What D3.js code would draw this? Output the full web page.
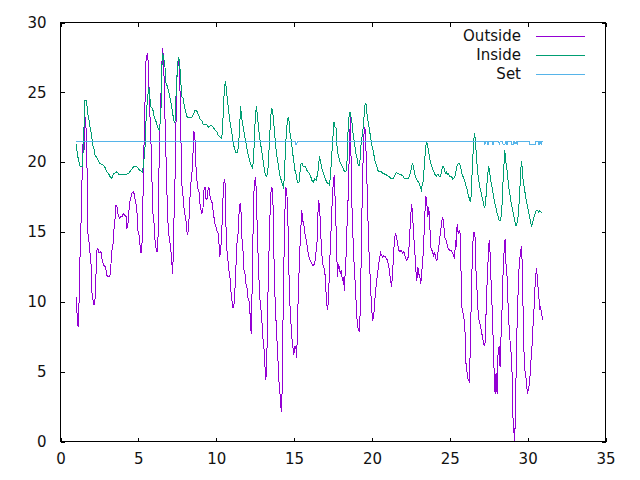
<!DOCTYPE html>
<html><head><meta charset="utf-8">
<script src="https://cdn.jsdelivr.net/npm/d3@7"></script>
<style>
html,body{margin:0;padding:0;background:#fff;}
svg{display:block;font-family:"DejaVu Sans",sans-serif;}
</style></head>
<body>
<svg id="chart" width="640" height="480"></svg>
<script>
const xTicks = [0,5,10,15,20,25,30,35];
const yTicks = [0,5,10,15,20,25,30];
const seriesNames = ["Outside","Inside","Set"];
const seriesColors = ["#9400d3","#009e73","#56b4e9"];

const outsideDays = [1.0,1.07,1.13,1.22,1.28,1.33,1.39,1.46,1.52,1.58,1.65,1.71,1.76,1.84,1.92,1.99,2.03,2.1,2.16,2.22,2.29,2.33,2.4,2.46,2.54,2.6,2.67,2.78,2.89,2.97,3.06,3.17,3.23,3.29,3.36,3.42,3.49,3.55,3.62,3.68,3.78,3.87,3.95,4.04,4.13,4.21,4.26,4.32,4.38,4.47,4.53,4.6,4.7,4.79,4.85,4.92,4.98,5.04,5.11,5.17,5.24,5.28,5.35,5.41,5.45,5.51,5.58,5.62,5.69,5.75,5.81,5.88,5.94,6.01,6.07,6.13,6.2,6.26,6.31,6.37,6.44,6.5,6.56,6.63,6.69,6.76,6.82,6.88,6.95,7.01,7.08,7.14,7.21,7.27,7.33,7.4,7.46,7.53,7.59,7.65,7.72,7.78,7.85,7.91,7.97,8.04,8.1,8.17,8.23,8.29,8.36,8.42,8.51,8.57,8.63,8.7,8.76,8.83,8.89,8.96,9.02,9.08,9.15,9.21,9.28,9.34,9.4,9.47,9.53,9.6,9.66,9.72,9.79,9.85,9.92,9.98,10.04,10.11,10.17,10.22,10.26,10.32,10.37,10.43,10.49,10.56,10.62,10.69,10.75,10.81,10.88,10.94,11.01,11.07,11.13,11.2,11.26,11.33,11.39,11.45,11.52,11.56,11.6,11.65,11.71,11.78,11.84,11.9,11.97,12.03,12.1,12.16,12.22,12.27,12.29,12.35,12.42,12.48,12.54,12.61,12.67,12.74,12.8,12.87,12.93,12.99,13.06,13.12,13.19,13.25,13.31,13.38,13.44,13.51,13.57,13.63,13.7,13.76,13.83,13.89,13.96,14.02,14.08,14.15,14.21,14.28,14.34,14.4,14.47,14.53,14.6,14.66,14.72,14.79,14.85,14.92,14.98,15.04,15.11,15.17,15.24,15.3,15.37,15.43,15.49,15.56,15.62,15.69,15.75,15.81,15.88,15.94,16.01,16.07,16.2,16.33,16.39,16.46,16.52,16.58,16.65,16.71,16.78,16.84,16.9,16.97,17.03,17.1,17.14,17.21,17.27,17.33,17.4,17.46,17.53,17.59,17.65,17.72,17.78,17.85,17.91,17.97,18.04,18.1,18.17,18.23,18.29,18.36,18.42,18.49,18.55,18.62,18.68,18.74,18.81,18.87,18.94,19.0,19.06,19.13,19.19,19.26,19.32,19.38,19.45,19.51,19.58,19.64,19.71,19.77,19.83,19.9,19.96,20.04,20.13,20.22,20.3,20.39,20.47,20.56,20.67,20.77,20.88,20.99,21.09,21.2,21.26,21.33,21.39,21.46,21.52,21.58,21.65,21.71,21.8,21.88,21.97,22.05,22.14,22.22,22.31,22.37,22.44,22.5,22.56,22.63,22.69,22.76,22.82,22.88,22.95,23.01,23.08,23.14,23.21,23.27,23.33,23.4,23.46,23.53,23.59,23.65,23.72,23.78,23.85,23.91,23.97,24.04,24.1,24.17,24.23,24.29,24.36,24.42,24.49,24.55,24.62,24.68,24.77,24.87,24.98,25.09,25.19,25.3,25.38,25.43,25.47,25.54,25.6,25.67,25.73,25.79,25.86,25.92,25.99,26.05,26.12,26.18,26.24,26.31,26.37,26.44,26.5,26.56,26.63,26.69,26.76,26.82,26.88,26.95,27.01,27.08,27.14,27.21,27.27,27.33,27.4,27.46,27.53,27.59,27.65,27.72,27.78,27.85,27.91,27.97,28.04,28.1,28.17,28.23,28.29,28.36,28.42,28.49,28.55,28.61,28.68,28.74,28.81,28.87,28.94,29.0,29.06,29.13,29.17,29.23,29.29,29.36,29.42,29.49,29.55,29.62,29.68,29.74,29.81,29.87,29.94,30.0,30.06,30.13,30.19,30.26,30.32,30.38,30.45,30.51,30.58,30.64,30.71,30.77,30.83,30.9,30.96];
const outsideTemp = [10.35,9.0,8.2,10.8,15.1,15.8,19.2,21.8,20.9,23.2,22.3,19.2,14.9,14.2,13.2,12.3,10.3,10.1,9.75,10.2,12.3,13.7,13.8,13.5,13.5,13.6,13.0,12.6,12.5,11.9,11.8,11.8,12.5,13.6,13.9,15.1,15.7,16.9,16.9,16.3,16.0,16.1,16.1,16.3,16.2,16.1,15.3,15.4,16.4,17.3,17.5,17.8,17.9,17.3,17.0,16.3,15.0,14.8,14.0,13.5,14.3,16.3,20.9,22.5,26.6,27.5,27.8,27.3,25.2,23.2,21.4,18.5,16.3,15.6,14.4,13.9,13.6,14.4,18.7,22.1,24.3,26.8,28.2,27.1,24.0,21.1,18.5,16.1,14.9,14.4,13.8,12.9,12.0,15.4,17.3,21.6,25.8,26.7,27.3,26.4,22.8,18.5,17.8,17.0,16.3,16.1,15.1,14.8,15.4,16.8,18.5,18.8,20.6,22.2,21.8,19.7,18.7,18.1,17.9,17.0,16.6,16.3,16.7,18.0,18.2,17.4,17.3,18.0,18.2,17.6,17.3,17.2,16.6,16.1,15.6,15.4,15.1,15.0,14.4,13.2,13.5,14.2,15.4,17.3,18.5,18.8,15.6,13.7,13.0,12.3,11.8,10.8,10.1,9.6,9.6,10.8,12.3,14.2,14.6,16.1,17.0,17.1,16.3,14.6,13.9,12.3,12.1,11.3,11.1,10.3,10.1,9.4,8.0,7.7,9.9,14.2,17.8,18.7,18.9,16.3,13.9,11.8,10.3,9.5,8.7,7.5,6.8,5.6,4.4,5.8,9.9,13.2,15.8,17.8,18.2,18.0,13.7,10.8,8.9,7.5,6.0,4.4,3.7,2.5,2.1,8.0,12.3,16.1,18.2,18.0,16.1,12.5,10.1,8.7,7.5,6.8,6.2,6.8,6.8,6.0,9.4,11.5,13.7,15.1,16.6,15.8,15.6,14.9,14.6,14.2,13.7,13.3,13.0,12.9,12.6,12.7,13.5,13.8,16.1,17.3,16.6,14.9,13.5,12.7,12.5,12.3,11.1,9.9,9.4,10.1,12.3,13.9,15.8,17.5,18.7,19.1,16.8,14.6,11.8,12.7,12.5,12.0,12.3,11.5,11.8,10.8,12.3,13.7,16.3,17.8,21.1,23.2,18.7,15.8,13.9,12.3,11.1,9.6,8.4,8.0,7.9,9.6,13.9,17.8,20.9,22.5,22.3,20.1,17.5,14.9,13.0,11.5,9.9,8.6,9.2,10.6,11.5,12.3,13.0,13.5,13.2,13.3,13.2,13.0,12.5,11.5,11.1,12.0,13.5,14.6,14.9,14.6,14.2,13.7,13.6,13.7,13.5,13.6,13.2,13.0,13.1,13.7,15.1,16.3,17.0,15.8,14.6,13.5,12.3,11.5,12.5,12.0,11.8,11.3,12.3,13.0,14.4,16.3,17.6,17.0,16.1,16.8,15.4,13.9,13.7,13.5,13.3,13.5,13.1,12.9,13.5,13.9,14.6,15.1,15.8,16.1,15.4,14.6,14.4,13.9,13.7,13.7,13.5,13.1,14.4,13.9,15.6,14.9,15.1,14.9,11.8,9.4,9.2,8.7,7.7,5.3,4.9,4.4,4.3,6.3,9.6,13.0,14.6,15.0,14.6,12.0,10.6,9.2,8.7,8.4,8.0,7.6,7.2,6.9,7.1,9.2,11.5,13.0,14.4,13.5,11.5,9.6,7.5,4.9,3.4,4.9,3.4,6.3,6.8,5.3,7.5,9.6,12.0,13.7,14.5,12.7,11.8,9.9,8.2,7.2,6.3,4.9,1.7,0.55,0.05,2.9,7.2,9.6,12.0,13.0,13.7,14.0,11.1,7.2,5.1,4.9,3.9,3.4,3.9,4.1,5.6,6.3,8.0,8.7,10.6,11.8,12.4,11.3,10.6,9.4,9.6,9.2,8.7];

const insideDays = [1.0,1.07,1.13,1.2,1.26,1.39,1.46,1.52,1.56,1.65,1.71,1.78,1.84,1.9,1.97,2.03,2.1,2.16,2.22,2.29,2.35,2.42,2.48,2.54,2.67,2.74,2.8,2.87,2.93,2.99,3.06,3.12,3.19,3.25,3.31,3.38,3.44,3.53,3.59,3.66,3.74,4.27,4.38,4.45,4.51,4.58,4.7,4.85,4.95,5.1,5.26,5.34,5.43,5.51,5.6,5.67,5.73,5.79,5.86,5.94,6.03,6.11,6.2,6.28,6.37,6.46,6.5,6.56,6.63,6.71,6.78,6.84,6.92,7.01,7.1,7.18,7.27,7.35,7.44,7.53,7.59,7.65,7.72,7.78,7.87,7.95,8.04,8.12,8.21,8.31,8.42,8.53,8.63,8.74,8.85,8.96,9.06,9.17,9.38,9.49,9.6,9.7,9.81,9.92,10.03,10.13,10.24,10.35,10.41,10.47,10.54,10.6,10.67,10.73,10.79,10.86,10.92,10.99,11.05,11.12,11.18,11.24,11.37,11.44,11.5,11.56,11.63,11.69,11.76,11.82,11.88,11.95,12.01,12.08,12.14,12.21,12.27,12.33,12.4,12.46,12.53,12.59,12.65,12.72,12.78,12.85,12.91,12.97,13.04,13.1,13.17,13.23,13.3,13.36,13.42,13.49,13.55,13.62,13.68,13.75,13.81,13.87,13.94,14.0,14.06,14.13,14.19,14.26,14.32,14.38,14.45,14.53,14.62,14.68,14.74,14.81,14.87,14.94,15.0,15.06,15.13,15.19,15.26,15.32,15.38,15.45,15.51,15.58,15.71,15.77,15.83,15.9,15.99,16.07,16.15,16.24,16.33,16.43,16.54,16.63,16.69,16.76,16.82,16.89,16.95,17.01,17.08,17.14,17.21,17.27,17.33,17.4,17.46,17.53,17.56,17.63,17.69,17.76,17.82,17.88,17.95,18.01,18.08,18.14,18.21,18.27,18.33,18.4,18.46,18.53,18.59,18.65,18.72,18.78,18.85,18.91,18.97,19.04,19.1,19.17,19.23,19.29,19.36,19.42,19.49,19.55,19.62,19.68,19.74,19.81,19.87,19.94,20.0,20.06,20.13,20.19,20.26,20.32,20.38,20.49,20.6,20.71,20.81,20.92,21.03,21.13,21.24,21.35,21.46,21.56,21.67,21.78,21.88,21.99,22.1,22.31,22.42,22.5,22.59,22.65,22.72,22.78,22.85,22.91,22.97,23.04,23.1,23.17,23.23,23.3,23.36,23.42,23.49,23.55,23.62,23.68,23.74,23.81,23.87,23.94,24.0,24.06,24.13,24.19,24.26,24.32,24.38,24.45,24.53,24.6,24.66,24.72,24.79,24.85,24.92,24.98,25.09,25.19,25.3,25.38,25.45,25.51,25.6,25.69,25.77,25.86,25.94,26.03,26.12,26.2,26.28,26.35,26.41,26.47,26.54,26.6,26.67,26.73,26.8,26.86,26.92,26.99,27.05,27.12,27.18,27.24,27.31,27.37,27.44,27.5,27.56,27.63,27.69,27.76,27.82,27.88,27.95,28.01,28.08,28.17,28.25,28.33,28.4,28.46,28.53,28.59,28.65,28.72,28.78,28.85,28.91,28.97,29.04,29.1,29.17,29.23,29.29,29.36,29.42,29.49,29.55,29.62,29.68,29.74,29.81,29.87,29.94,30.0,30.06,30.13,30.19,30.26,30.32,30.38,30.45,30.51,30.58,30.64,30.71,30.77,30.83,30.93];
const insideTemp = [21.3,20.7,20.3,19.95,19.7,19.7,20.9,22.8,24.4,24.4,24.0,23.2,23.0,22.5,22.1,21.6,21.1,20.9,20.5,20.4,20.3,20.1,20.0,19.9,19.85,19.8,19.7,19.6,19.4,19.3,19.2,19.1,18.95,18.85,18.9,19.1,19.2,19.25,19.3,19.25,19.15,19.15,19.2,19.3,19.4,19.5,19.7,19.7,19.6,19.4,19.3,19.9,21.1,23.5,24.7,25.4,24.7,24.0,23.9,23.7,23.2,23.0,22.65,22.4,22.3,24.0,26.6,27.8,27.5,26.8,25.6,25.5,25.2,24.7,24.2,23.7,23.0,22.8,25.4,27.1,27.5,27.1,25.9,24.7,24.6,24.0,23.6,23.25,23.2,23.2,23.2,23.4,23.7,23.7,23.4,23.1,23.0,22.7,22.7,22.5,22.6,22.6,22.5,22.3,22.2,21.9,21.8,21.7,22.3,24.2,25.4,25.8,25.0,24.4,23.7,23.1,22.65,22.2,21.7,21.2,21.0,20.7,20.7,21.3,22.3,24.0,23.25,22.8,22.3,21.9,21.6,21.1,20.7,20.4,20.1,19.9,19.7,19.6,20.1,22.1,23.5,24.0,23.25,22.5,21.8,21.3,20.9,20.4,19.9,19.4,19.1,19.0,19.2,20.1,21.6,23.0,23.9,23.7,23.0,22.1,21.3,20.6,20.1,19.7,19.2,18.8,18.7,18.35,18.2,18.95,21.1,22.5,23.2,22.95,22.1,21.6,21.1,20.4,19.9,19.4,19.1,18.7,18.5,18.6,19.3,19.9,19.9,19.7,19.7,19.6,19.4,19.3,19.2,18.95,18.7,18.6,18.8,18.7,19.4,20.4,20.1,19.7,19.4,19.2,19.0,18.8,18.6,18.5,18.5,18.4,18.95,20.1,21.3,22.3,22.9,22.5,22.5,21.1,20.6,20.3,20.0,19.9,19.7,19.6,19.4,19.3,19.3,20.1,22.1,23.25,23.6,23.25,22.8,22.1,21.6,21.1,20.6,20.3,19.9,19.7,20.1,21.1,21.8,22.3,23.25,24.1,24.2,23.5,23.0,22.5,22.1,21.6,21.2,20.9,20.5,20.1,19.9,19.7,19.4,19.3,19.3,19.2,19.15,19.1,19.0,18.95,18.8,18.8,19.0,19.25,19.2,19.1,19.1,19.0,18.8,18.8,19.0,19.4,19.9,19.8,19.3,19.0,18.8,18.7,18.6,18.5,18.2,18.0,18.35,18.7,19.7,20.6,21.45,21.3,20.9,20.5,20.1,19.8,19.6,19.4,19.25,19.1,19.0,19.1,19.1,19.0,19.0,19.2,19.7,19.7,19.45,19.2,19.3,19.1,19.2,19.0,19.0,18.8,18.9,19.2,19.7,19.85,19.9,19.7,19.2,18.95,18.7,18.35,18.0,17.6,17.3,17.15,18.7,20.1,21.6,22.1,21.1,20.1,19.2,18.7,18.2,18.0,17.6,17.3,16.9,16.7,17.3,18.2,19.2,19.7,19.3,18.7,18.35,17.9,17.5,17.15,16.8,16.45,16.2,15.85,15.85,16.3,18.2,19.4,20.9,20.1,19.7,18.95,18.2,17.75,17.3,16.9,16.55,16.2,15.85,15.5,15.5,15.85,16.55,17.75,19.4,20.1,18.95,18.5,18.0,17.5,17.15,16.8,16.45,16.1,15.7,15.4,15.7,15.95,16.2,16.45,16.55,16.55,16.4,16.5,16.45,16.4];

const setDays = [1.0,15.1,15.12,15.18,15.2,27.2,27.22,27.26,27.28,27.4,27.42,27.46,27.48,27.74,27.76,27.8,27.82,28.15,28.17,28.21,28.23,28.4,28.42,28.55,28.57,28.62,28.64,28.68,28.7,28.95,28.97,29.1,29.12,29.17,29.19,29.3,29.32,29.36,29.38,30.1,30.12,30.5,30.52,30.7,30.72,30.76,30.78,30.84,30.86,30.9,30.92,30.96];
const setTemp = [21.5,21.5,21.3,21.3,21.5,21.5,21.3,21.3,21.5,21.5,21.3,21.3,21.5,21.5,21.3,21.3,21.5,21.5,21.3,21.3,21.5,21.5,21.3,21.3,21.5,21.5,21.3,21.3,21.5,21.5,21.3,21.3,21.5,21.5,21.3,21.5,21.3,21.3,21.5,21.5,21.3,21.3,21.5,21.5,21.3,21.3,21.5,21.5,21.3,21.3,21.5,21.5];

const svg = d3.select("#chart");
const L = 60.5, R = 605.5, T = 22.5, B = 441.5;
const x = d3.scaleLinear().domain([0,35]).range([L,R]);
const y = d3.scaleLinear().domain([0,30]).range([B,T]);

const fontSize = 15;
const textColor = "#111";
const tickLen = 4;
const axB = svg.append("g").attr("transform",`translate(0,${B})`)
  .call(d3.axisBottom(x).tickValues(xTicks).tickSize(-tickLen).tickPadding(12).tickFormat(d3.format("d")));
const axT = svg.append("g").attr("transform",`translate(0,${T})`)
  .call(d3.axisTop(x).tickValues(xTicks).tickSize(-tickLen).tickFormat(""));
const axL = svg.append("g").attr("transform",`translate(${L},0)`)
  .call(d3.axisLeft(y).tickValues(yTicks).tickSize(-tickLen).tickPadding(14).tickFormat(d3.format("d")));
const axR = svg.append("g").attr("transform",`translate(${R},0)`)
  .call(d3.axisRight(y).tickValues(yTicks).tickSize(-tickLen).tickFormat(""));
[axB,axT,axL,axR].forEach(g=>{
  g.select(".domain").remove();
  g.selectAll(".tick line").attr("stroke","#000").attr("shape-rendering","crispEdges");
  g.selectAll("text").attr("font-family","'DejaVu Sans',sans-serif").attr("font-size",fontSize).attr("fill",textColor);
});
axB.selectAll("text").attr("dy","0.71em");

function mkData(xs, ys){ return xs.map((d,i)=>[d, ys[i]]); }
const line = d3.line().x(d=>x(d[0])).y(d=>y(d[1]));
const allSeries = [mkData(outsideDays,outsideTemp), mkData(insideDays,insideTemp), mkData(setDays,setTemp)];

const plot = svg.append("g");
allSeries.forEach((data,i)=>{
  plot.append("path").datum(data).attr("d",line)
    .attr("fill","none").attr("stroke",seriesColors[i]).attr("stroke-width",1)
    .attr("shape-rendering","crispEdges");
});

svg.append("rect").attr("x",L).attr("y",T).attr("width",R-L).attr("height",B-T)
  .attr("fill","none").attr("stroke","#000").attr("stroke-width",1).attr("shape-rendering","crispEdges");

const legY = [35.7, 54.5, 73.5];
const leg = svg.append("g");
seriesNames.forEach((name,i)=>{
  leg.append("text").attr("x",521).attr("y",legY[i]).attr("dy","0.36em")
    .attr("text-anchor","end").attr("font-size",fontSize).attr("fill",textColor).text(name);
  leg.append("line").attr("x1",536).attr("x2",585).attr("y1",Math.round(legY[i])+0.5).attr("y2",Math.round(legY[i])+0.5)
    .attr("stroke",seriesColors[i]).attr("stroke-width",1).attr("shape-rendering","crispEdges");
});
</script>
</body></html>
